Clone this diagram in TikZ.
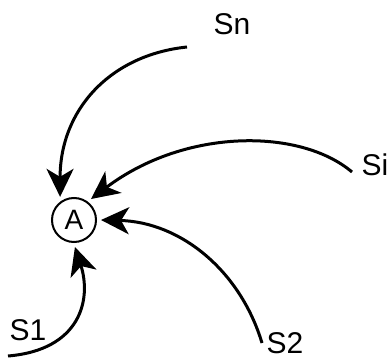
\documentclass[tikz,border=0pt]{standalone}
\usepackage{fontspec}
\setmainfont{Liberation Sans}
\usetikzlibrary{arrows.meta}
\begin{document}
\begin{tikzpicture}[x=1pt,y=-1pt,
  lbl/.style={inner sep=0pt,anchor=base,font=\fontsize{30}{30}\selectfont},
  flow/.style={line width=3pt,-{Stealth[length=28pt,width=27pt,inset=8pt]}},
  hub/.style={circle,draw,line width=2pt,minimum size=44pt,inner sep=0pt,outer sep=5pt,font=\fontsize{28}{28}\selectfont}]
\useasboundingbox (0,0) rectangle (390,358);
\node[hub] (A) at (74,220) {A};
\node[lbl] (Sn) at (232,35) {Sn};
\node[lbl] (Si) at (375,175) {Si};
\node[lbl] (S1) at (28,340) {S1};
\node[lbl] (S2) at (285,353) {S2};
\coordinate (pn) at (187,47);
\coordinate (pi) at (352,172);
\coordinate (p1) at (8,356);
\coordinate (p2) at (262,343);
\draw[flow] (pn) .. controls (110,55) and (60,110) .. (A.121);
\draw[flow] (pi) .. controls (300,128) and (185,128) .. (A.51);
\draw[flow] (p2) .. controls (240,270) and (180,222) .. (A.0);
\draw[flow] (p1) .. controls (80,350) and (92,300) .. (A.-88);
\end{tikzpicture}
\end{document}
